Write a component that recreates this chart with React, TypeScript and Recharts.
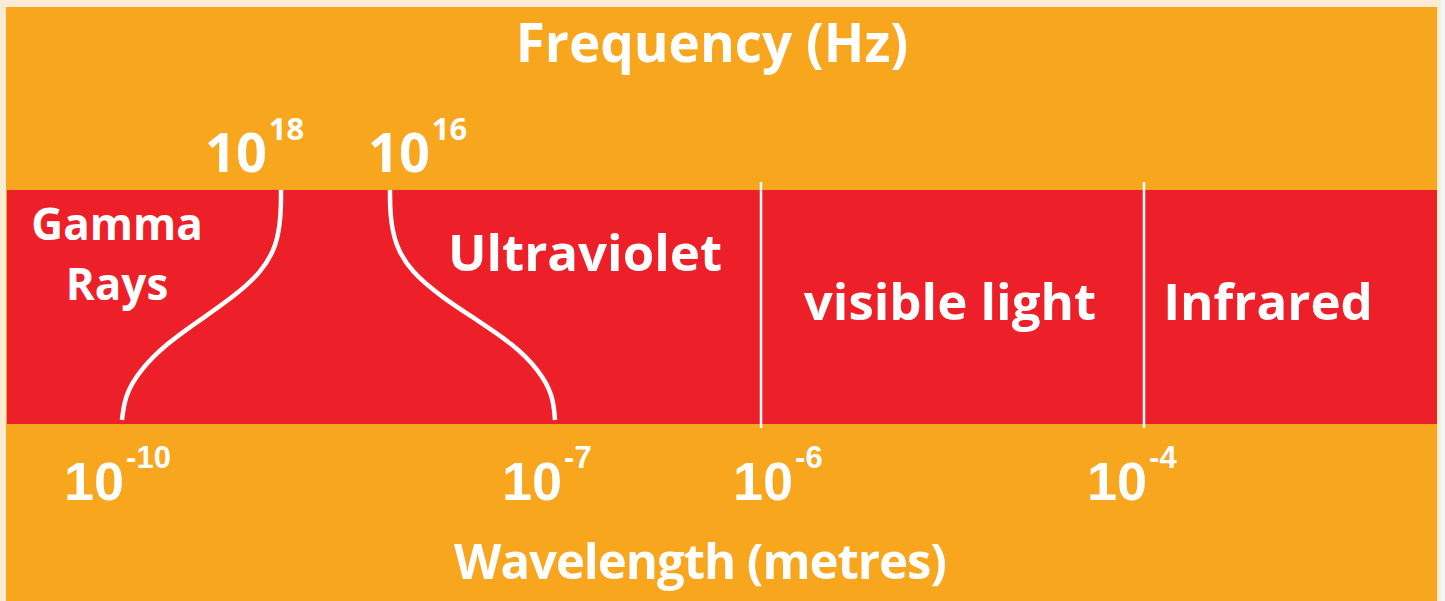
import {
  ComposedChart,
  Line,
  Scatter,
  XAxis,
  YAxis,
  ReferenceArea,
  ReferenceLine,
} from 'recharts'

// chart units: the diagram is laid out on a 1445 x 601 grid, y counted downwards
const WIDTH = 1445
const HEIGHT = 601

const ORANGE = '#F8A61E'
const RED = '#ED2029'
const WHITE = '#ffffff'

const titles = ['Frequency (Hz)', 'Wavelength (metres)']
const titleAnchors = [{ x: 712, y: 62 }, { x: 700, y: 579 }]

const bandNames = ['Gamma\nRays', 'Ultraviolet', 'visible light', 'Infrared']
const bandAnchors = [
  { x: 117, y: 240 },
  { x: 585, y: 271 },
  { x: 950, y: 320 },
  { x: 1268, y: 320 },
]

const frequencyExponents = ['18', '16']
const frequencyTickPos = [205, 368]
const frequencyTickBaseline = 172

const wavelengthExponents = ['-10', '-7', '-6', '-4']
const wavelengthTickPos = [64, 502, 733, 1087]
const wavelengthTickBaseline = 500

// red band and the straight boundaries inside it
const band = { left: 7, right: 1437, top: 190, bottom: 424 }
const straightBoundaries = [761, 1144]
const boundaryTop = 182
const boundaryBottom = 428

// curved boundaries (gamma | gap | ultraviolet)
const gammaEdge = [
  { x: 281, y: 190 }, { x: 281, y: 215 }, { x: 277, y: 245 }, { x: 262, y: 272 },
  { x: 232, y: 298 }, { x: 200, y: 320 }, { x: 166, y: 344 }, { x: 140, y: 370 },
  { x: 125, y: 395 }, { x: 122, y: 420 }, { x: 122, y: 420 },
]
const uvEdge = [
  { x: 390, y: 190 }, { x: 390, y: 215 }, { x: 395, y: 245 }, { x: 411, y: 272 },
  { x: 443, y: 298 }, { x: 477, y: 320 }, { x: 513, y: 344 }, { x: 539, y: 370 },
  { x: 553, y: 395 }, { x: 555, y: 420 }, { x: 555, y: 420 },
]

const titleData = titles.map((text, i) => ({ ...titleAnchors[i], text }))
const bandData = bandNames.map((text, i) => ({ ...bandAnchors[i], text }))
const freqData = frequencyExponents.map((exp, i) => ({ x: frequencyTickPos[i], y: frequencyTickBaseline, exp }))
const waveData = wavelengthExponents.map((exp, i) => ({ x: wavelengthTickPos[i], y: wavelengthTickBaseline, exp }))

// eslint-disable-next-line @typescript-eslint/no-explicit-any
const BandShape = (props: any) => {
  const { cx, cy, payload } = props
  const lines: string[] = payload.text.split('\n')
  const multi = lines.length > 1
  return (
    <text x={cx} y={cy} textAnchor="middle" fill={WHITE}
      fontFamily="'Open Sans', sans-serif" fontWeight={700} fontSize={multi ? 44 : 51}>
      {lines.map((line, i) => (
        <tspan key={line} x={cx} dy={i === 0 ? 0 : 60}>{line}</tspan>
      ))}
    </text>
  )
}

// eslint-disable-next-line @typescript-eslint/no-explicit-any
const makePowerShape = (family: string) => (props: any) => {
  const { cx, cy, payload } = props
  return (
    <text x={cx} y={cy} fill={WHITE} fontFamily={family} fontWeight={700} fontSize={54}>
      <tspan>10</tspan>
      <tspan dx={2} dy={-32} fontSize={31}>{payload.exp}</tspan>
    </text>
  )
}

// eslint-disable-next-line @typescript-eslint/no-explicit-any
const TitleShape = (props: any) => {
  const { cx, cy, payload } = props
  const narrow = payload.text.startsWith('Wavelength')
  return (
    <text x={cx} y={cy} textAnchor="middle" fill={WHITE} letterSpacing={narrow ? -1 : 0}
      fontFamily="'Open Sans', sans-serif" fontWeight={700} fontSize={narrow ? 49 : 53}>
      {payload.text}
    </text>
  )
}
const FreqShape = makePowerShape("'Open Sans', sans-serif")
const WaveShape = makePowerShape("'Liberation Sans', Arial, sans-serif")

export default function App() {
  return (
    <div style={{ position: 'absolute', left: 0, top: 0, width: WIDTH, height: HEIGHT, background: '#FDEBD3' }}>
      <ComposedChart width={WIDTH} height={HEIGHT} margin={{ top: 0, right: 0, bottom: 0, left: 0 }}>
        <XAxis type="number" dataKey="x" domain={[0, WIDTH]} allowDataOverflow hide />
        <YAxis type="number" dataKey="y" domain={[0, HEIGHT]} allowDataOverflow reversed hide />

        <ReferenceArea x1={6} x2={1437} y1={7} y2={HEIGHT} fill={ORANGE} fillOpacity={1} stroke="none" />
        <ReferenceArea x1={1441} x2={WIDTH} y1={0} y2={HEIGHT} fill="#EEF5FB" fillOpacity={1} stroke="none" />
        <ReferenceArea x1={band.left} x2={band.right} y1={band.top} y2={band.bottom}
          fill={RED} fillOpacity={1} stroke="none" />

        {straightBoundaries.map((x) => (
          <ReferenceLine key={x} segment={[{ x, y: boundaryTop }, { x, y: boundaryBottom }]}
            stroke={WHITE} strokeWidth={2.5} />
        ))}

        <Line data={gammaEdge} dataKey="y" type="basis" stroke={WHITE} strokeWidth={4.5}
          dot={false} activeDot={false} isAnimationActive={false} />
        <Line data={uvEdge} dataKey="y" type="basis" stroke={WHITE} strokeWidth={4.5}
          dot={false} activeDot={false} isAnimationActive={false} />

        <Scatter data={titleData} dataKey="y" shape={TitleShape} isAnimationActive={false} />
        <Scatter data={bandData} dataKey="y" shape={BandShape} isAnimationActive={false} />
        <Scatter data={freqData} dataKey="y" shape={FreqShape} isAnimationActive={false} />
        <Scatter data={waveData} dataKey="y" shape={WaveShape} isAnimationActive={false} />
      </ComposedChart>
    </div>
  )
}
